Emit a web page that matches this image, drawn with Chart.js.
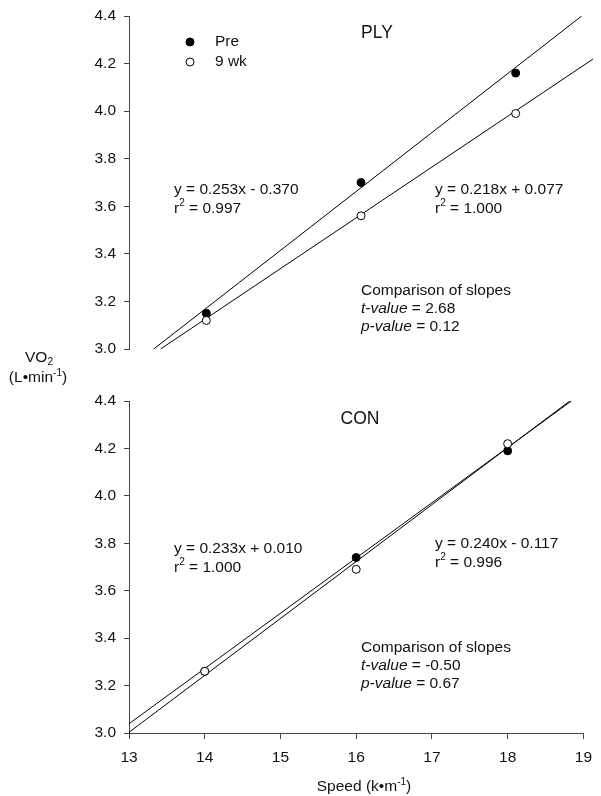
<!DOCTYPE html>
<html>
<head>
<meta charset="utf-8">
<script src="https://cdn.jsdelivr.net/npm/chart.js@4.4.0/dist/chart.umd.min.js"></script>
<style>
    body { margin: 0; background: #fff; width: 601px; height: 796px; position: relative; overflow: hidden; font-family: "Liberation Sans", Arial, sans-serif; color: #111; }
    #top-chart { position: absolute; left: 0; top: 0; }
    #bottom-chart { position: absolute; left: 0; top: 385px; }
    .label { position: absolute; font-size: 15.5px; text-align: center; line-height: 18px; white-space: nowrap; }
    .label sub, .label sup { font-size: 10px; line-height: 0; }
    .label sup { vertical-align: 6px; }
    .label sub { vertical-align: -3px; }
    #y-label-1 { left: 0; top: 348px; width: 78px; }
    #y-label-2 { left: 0; top: 368px; width: 76px; }
    #x-label { left: 264px; top: 777px; width: 200px; }
</style>
</head>
<body>
<canvas id="top-chart" width="601" height="365" style="width:601px;height:365px"></canvas>
<canvas id="bottom-chart" width="601" height="411" style="width:601px;height:411px"></canvas>
<div class="label" id="y-label-1">VO<sub>2</sub></div>
<div class="label" id="y-label-2">(L•min<sup>-1</sup>)</div>
<div class="label" id="x-label">Speed (k•m<sup>-1</sup>)</div>

<script>
// speeds (k/m) tested
const speeds = [14, 16, 18];

// PLY group
const plyPre = [3.15, 3.70, 4.16];
const ply9wk = [3.12, 3.56, 3.99];
const plySlopes = [0.253, 0.218];
const plyIntercepts = [-0.370, 0.077];
const plyEquations = ['y = 0.253x - 0.370', 'y = 0.218x + 0.077'];
const plyR2 = ['0.997', '1.000'];
const plyStats = ['2.68', '0.12'];

// CON group
const conPre = [3.26, 3.74, 4.19];
const con9wk = [3.26, 3.69, 4.22];
const conSlopes = [0.233, 0.240];
const conIntercepts = [0.010, -0.117];
const conEquations = ['y = 0.233x + 0.010', 'y = 0.240x - 0.117'];
const conR2 = ['1.000', '0.996'];
const conStats = ['-0.50', '0.67'];

const seriesNames = ['Pre', '9 wk'];
const xMin = 13, xMax = 19;
const yMin = 3.0, yMax = 4.4;

const FONT = '"Liberation Sans", Arial, sans-serif';
const AXIS_COLOR = '#444';

// regression line from printed slope/intercept, clipped to the axes box
function fitLine(m, b) {
    let x0 = Math.max(xMin, (yMin - b) / m);
    let x1 = Math.min(xMax, (yMax - b) / m);
    return [{ x: x0, y: m * x0 + b }, { x: x1, y: m * x1 + b }];
}

function toPoints(values) {
    return speeds.map((s, i) => ({ x: s, y: values[i] }));
}

function makeDatasets(pre, wk, slopes, intercepts) {
    return [
        { data: toPoints(wk), pointRadius: 4, pointBackgroundColor: '#fff', pointBorderColor: '#000', pointBorderWidth: 1, order: 0 },
        { data: toPoints(pre), pointRadius: 4, pointBackgroundColor: '#000', pointBorderColor: '#000', pointBorderWidth: 1, order: 1 },
        { data: fitLine(slopes[0], intercepts[0]), showLine: true, pointRadius: 0, borderColor: '#000', borderWidth: 1, order: 2 },
        { data: fitLine(slopes[1], intercepts[1]), showLine: true, pointRadius: 0, borderColor: '#000', borderWidth: 1, order: 3 }
    ];
}

// draws text made of parts (plain, italic, superscript)
function drawParts(ctx, parts, x, y, size) {
    let cx = x;
    parts.forEach(p => {
        if (p.sup) {
            ctx.font = `${size * 0.65}px ${FONT}`;
            ctx.fillText(p.t, cx, y - size * 0.4);
        } else {
            ctx.font = `${p.italic ? 'italic ' : ''}${size}px ${FONT}`;
            ctx.fillText(p.t, cx, y);
        }
        cx += ctx.measureText(p.t).width;
    });
}

function notesPlugin(notes) {
    return {
        id: 'notes',
        afterDraw(chart) {
            const ctx = chart.ctx;
            ctx.save();
            ctx.fillStyle = '#111';
            ctx.textBaseline = 'middle';
            notes.forEach(n => {
                if (n.marker) {
                    ctx.beginPath();
                    ctx.arc(n.x, n.y, 4, 0, Math.PI * 2);
                    ctx.fillStyle = n.marker === 'filled' ? '#000' : '#fff';
                    ctx.fill();
                    ctx.strokeStyle = '#000';
                    ctx.lineWidth = 1;
                    ctx.stroke();
                    ctx.fillStyle = '#111';
                    return;
                }
                ctx.textAlign = n.align || 'left';
                drawParts(ctx, n.parts, n.x, n.y, n.size || 15.5);
            });
            ctx.restore();
        }
    };
}

function panelNotes(title, titleX, titleY, equations, r2, stats, eqY, statsY) {
    return [
        { parts: [{ t: title }], x: titleX, y: titleY, size: 17.5, align: 'center' },
        { parts: [{ t: equations[0] }], x: 174, y: eqY[0] },
        { parts: [{ t: 'r' }, { t: '2', sup: true }, { t: ' = ' + r2[0] }], x: 174, y: eqY[0] + 19 },
        { parts: [{ t: equations[1] }], x: 435, y: eqY[1] },
        { parts: [{ t: 'r' }, { t: '2', sup: true }, { t: ' = ' + r2[1] }], x: 435, y: eqY[1] + 19 },
        { parts: [{ t: 'Comparison of slopes' }], x: 361, y: statsY },
        { parts: [{ t: 't-value', italic: true }, { t: ' = ' + stats[0] }], x: 361, y: statsY + 18 },
        { parts: [{ t: 'p-value', italic: true }, { t: ' = ' + stats[1] }], x: 361, y: statsY + 36 }
    ];
}

function yScale() {
    return {
        min: yMin,
        max: yMax,
        afterFit: scale => { scale.width = 129; },
        border: { display: true, color: AXIS_COLOR, width: 1 },
        grid: { drawOnChartArea: false, drawTicks: true, tickLength: 5, color: AXIS_COLOR },
        ticks: {
            stepSize: 0.2,
            padding: 8,
            color: '#111',
            font: { family: FONT, size: 15.5, lineHeight: 1 },
            callback: v => Number(v).toFixed(1)
        }
    };
}

function makeChart(canvasId, datasets, notes, showX, padding) {
    return new Chart(document.getElementById(canvasId), {
        type: 'scatter',
        data: { datasets: datasets },
        options: {
            responsive: false,
            animation: false,
            layout: { padding: padding },
            plugins: { legend: { display: false }, tooltip: { enabled: false } },
            scales: {
                x: {
                    display: showX,
                    min: xMin,
                    max: xMax,
                    afterFit: scale => { if (showX) scale.height = 63; },
                    border: { display: true, color: AXIS_COLOR, width: 1 },
                    grid: { drawOnChartArea: false, drawTicks: true, tickLength: 6, color: AXIS_COLOR },
                    ticks: { stepSize: 1, padding: 9, color: '#111', font: { family: FONT, size: 15.5 } }
                },
                y: yScale()
            }
        },
        plugins: [notesPlugin(notes)]
    });
}

const topNotes = [
    { marker: 'filled', x: 190, y: 42 },
    { marker: 'open', x: 190, y: 62 },
    { parts: [{ t: seriesNames[0] }], x: 215, y: 42 },
    { parts: [{ t: seriesNames[1] }], x: 215, y: 62 }
].concat(panelNotes('PLY', 377, 33, plyEquations, plyR2, plyStats, [190, 190], 291));

// bottom canvas starts at page y 385
const bottomNotes = panelNotes('CON', 360, 34, conEquations, conR2, conStats, [164, 159], 263);

makeChart('top-chart', makeDatasets(plyPre, ply9wk, plySlopes, plyIntercepts), topNotes, false,
    { top: 16, right: 8, bottom: 16, left: 0 });
makeChart('bottom-chart', makeDatasets(conPre, con9wk, conSlopes, conIntercepts), bottomNotes, true,
    { top: 16, right: 8, bottom: 0, left: 0 });
</script>
</body>
</html>
